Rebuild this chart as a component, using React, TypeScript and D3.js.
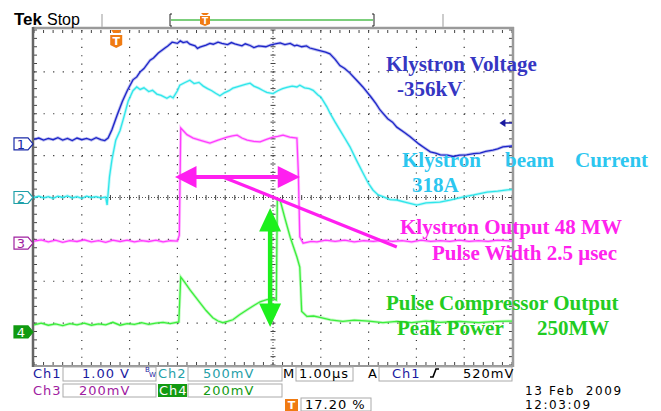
import React, { useEffect, useRef } from "react";
import * as d3 from "d3";

const W = 661;
const H = 411;

// time in µs from the left screen edge (1 µs/div), level in divisions from centre
const ch1Voltage: [number, number][] = [
  [0, 1.39], [0.1, 1.42], [0.2, 1.37], [0.3, 1.41], [0.4, 1.38], [0.5, 1.43], [0.6, 1.37],
  [0.7, 1.41], [0.8, 1.36], [0.9, 1.42], [1.0, 1.38], [1.1, 1.41], [1.2, 1.37], [1.3, 1.43],
  [1.4, 1.38], [1.48, 1.36], [1.55, 1.42], [1.63, 1.62], [1.74, 1.97], [1.85, 2.3], [1.95, 2.55],
  [2.07, 2.81], [2.15, 2.88], [2.22, 3.0], [2.3, 3.08], [2.43, 3.28], [2.5, 3.33], [2.6, 3.45],
  [2.74, 3.57], [2.8, 3.62], [2.89, 3.71], [3.0, 3.68], [3.06, 3.74], [3.12, 3.7], [3.2, 3.72],
  [3.26, 3.66], [3.37, 3.62], [3.42, 3.56], [3.47, 3.59], [3.6, 3.64], [3.68, 3.68], [3.75, 3.66],
  [3.85, 3.71], [3.93, 3.68], [4.05, 3.65], [4.13, 3.7], [4.2, 3.67], [4.35, 3.62], [4.42, 3.67],
  [4.52, 3.63], [4.6, 3.58], [4.7, 3.62], [4.85, 3.6], [4.94, 3.64], [5.05, 3.67], [5.15, 3.69],
  [5.25, 3.65], [5.36, 3.68], [5.45, 3.62], [5.5, 3.64], [5.6, 3.6], [5.7, 3.62], [5.77, 3.57],
  [5.9, 3.53], [6.0, 3.5], [6.1, 3.47], [6.19, 3.43], [6.3, 3.3], [6.4, 3.15], [6.5, 3.08],
  [6.61, 2.97], [6.75, 2.8], [6.88, 2.64], [7.05, 2.4], [7.15, 2.25], [7.24, 2.09], [7.4, 1.88],
  [7.5, 1.8], [7.59, 1.68], [7.75, 1.55], [7.87, 1.45], [8.05, 1.28], [8.15, 1.2], [8.29, 1.09],
  [8.4, 1.06], [8.5, 1.02], [8.65, 1.01], [8.77, 0.98], [8.9, 1.01], [9.05, 1.02], [9.2, 1.05],
  [9.33, 1.06], [9.45, 1.1], [9.6, 1.13], [9.7, 1.16], [9.81, 1.21], [10, 1.23],
];

const ch2Current: [number, number][] = [
  [0, 0.0], [0.1, 0.03], [0.2, -0.01], [0.3, 0.02], [0.4, -0.02], [0.5, 0.03], [0.6, 0.0],
  [0.7, 0.04], [0.8, -0.01], [0.9, 0.02], [1.0, -0.02], [1.1, 0.03], [1.2, 0.0], [1.3, 0.02],
  [1.4, -0.01], [1.5, 0.01], [1.53, -0.18], [1.58, 0.5], [1.63, 0.9], [1.71, 1.37], [1.8, 1.6],
  [1.88, 1.92], [1.97, 2.3], [2.07, 2.55], [2.15, 2.64], [2.22, 2.58], [2.3, 2.62], [2.4, 2.53],
  [2.48, 2.56], [2.57, 2.47], [2.66, 2.44], [2.78, 2.37], [2.85, 2.42], [2.91, 2.38], [3.0, 2.55],
  [3.05, 2.68], [3.15, 2.74], [3.26, 2.8], [3.35, 2.72], [3.45, 2.75], [3.54, 2.66], [3.63, 2.6],
  [3.72, 2.55], [3.8, 2.49], [3.89, 2.43], [3.98, 2.5], [4.08, 2.55], [4.16, 2.61], [4.3, 2.66],
  [4.42, 2.7], [4.52, 2.73], [4.6, 2.66], [4.7, 2.61], [4.8, 2.55], [4.87, 2.51], [5.0, 2.48],
  [5.1, 2.55], [5.2, 2.6], [5.29, 2.63], [5.4, 2.66], [5.5, 2.64], [5.56, 2.68], [5.66, 2.62],
  [5.76, 2.6], [5.84, 2.56], [5.94, 2.45], [6.0, 2.4], [6.13, 2.16], [6.19, 2.02], [6.3, 1.8],
  [6.4, 1.61], [6.5, 1.42], [6.61, 1.21], [6.75, 0.88], [6.88, 0.59], [7.0, 0.33], [7.09, 0.18],
  [7.2, 0.06], [7.3, 0.02], [7.45, -0.05], [7.59, -0.06], [7.8, -0.12], [8.01, -0.18], [8.2, -0.13],
  [8.49, -0.11], [8.7, -0.06], [8.97, 0.01], [9.2, 0.06], [9.48, 0.13], [9.7, 0.15], [9.9, 0.18],
  [10, 0.19],
];

const ch3Output: [number, number][] = [
  [0, -1.04], [0.15, -1.01], [0.3, -1.06], [0.45, -1.02], [0.6, -1.07], [0.75, -1.03],
  [0.9, -1.05], [1.05, -1.01], [1.2, -1.06], [1.35, -1.03], [1.5, -1.07], [1.65, -1.02],
  [1.8, -1.05], [1.95, -1.02], [2.1, -1.06], [2.25, -1.03], [2.4, -1.05], [2.55, -1.02],
  [2.7, -1.06], [2.85, -1.03], [3.0, -1.04], [3.04, -0.9], [3.07, 1.66], [3.2, 1.5],
  [3.33, 1.42], [3.5, 1.36], [3.68, 1.3], [3.85, 1.37], [4.04, 1.44], [4.15, 1.47], [4.25, 1.49],
  [4.35, 1.42], [4.46, 1.37], [4.6, 1.34], [4.73, 1.33], [4.85, 1.38], [5.0, 1.44], [5.1, 1.46],
  [5.21, 1.49], [5.35, 1.44], [5.5, 1.42], [5.53, 0.6], [5.56, -0.94], [5.63, -1.09],
  [5.8, -1.05], [5.92, -1.06], [6.1, -1.02], [6.3, -1.05], [6.5, -1.02], [6.7, -1.06],
  [6.9, -1.03], [7.1, -1.05], [7.3, -1.02], [7.5, -1.05], [7.7, -1.03], [7.9, -1.06],
  [8.1, -1.02], [8.3, -1.05], [8.5, -1.03], [8.7, -1.05], [8.9, -1.02], [9.1, -1.05],
  [9.3, -1.03], [9.5, -1.05], [9.7, -1.02], [10, -1.04],
];

const ch4Compressor: [number, number][] = [
  [0, -3.04], [0.15, -3.0], [0.3, -3.05], [0.45, -3.02], [0.6, -3.06], [0.75, -3.01],
  [0.9, -3.04], [1.05, -3.0], [1.2, -3.05], [1.35, -3.02], [1.5, -3.04], [1.65, -2.98],
  [1.8, -3.05], [1.95, -3.01], [2.1, -3.03], [2.25, -2.99], [2.4, -3.03], [2.55, -3.0],
  [2.7, -2.98], [2.85, -3.01], [3.03, -2.97], [3.07, -1.9], [3.15, -2.02], [3.26, -2.2],
  [3.47, -2.51], [3.6, -2.7], [3.74, -2.87], [3.85, -2.95], [3.95, -2.99], [4.05, -2.96],
  [4.16, -2.92], [4.3, -2.8], [4.46, -2.68], [4.6, -2.58], [4.73, -2.49], [4.87, -2.44],
  [5.0, -2.42], [5.07, -2.45], [5.09, -0.05], [5.15, -0.07], [5.25, -0.5], [5.36, -0.95],
  [5.5, -1.42], [5.56, -1.66], [5.6, -2.72], [5.71, -2.84], [5.85, -2.83], [5.98, -2.86],
  [6.2, -2.92], [6.46, -2.96], [6.7, -2.93], [7.0, -2.95], [7.3, -2.99], [7.59, -2.96],
  [7.9, -2.99], [8.2, -2.95], [8.5, -2.98], [8.9, -2.96], [9.3, -2.99], [9.69, -2.96], [10, -2.95],
];

const channelGround = [1.28, 0, -1.09, -3.21];
const channelNames = ["1", "2", "3", "4"];
const triggerPos = 1.72; // divisions (17.20 %)
const triggerLevel = 1.78;

const C1 = "#1d25c9";
const C2 = "#2ee6ea";
const C3 = "#ff3cff";
const C4 = "#3bee3b";

const App: React.FC = () => {
  const ref = useRef<SVGSVGElement | null>(null);

  useEffect(() => {
    document.body.style.margin = "0";
    const svg = d3.select(ref.current);
    svg.selectAll("*").remove();

    const x = d3.scaleLinear().domain([0, 10]).range([34, 512]);
    const y = d3.scaleLinear().domain([-4, 4]).range([365, 30]);

    svg.append("rect").attr("width", W).attr("height", H).attr("fill", "#fff");

    // graticule
    const g = svg.append("g");
    const xs = d3.range(1, 10);
    const ys = d3.range(-3, 4);
    xs.filter((d) => d !== 5).forEach((d) => {
      g.append("line").attr("x1", x(d)).attr("x2", x(d)).attr("y1", y(4)).attr("y2", y(-4))
        .attr("stroke", "#333").attr("stroke-width", 1.2).attr("stroke-dasharray", `1.2 ${(y(3.8) - y(4)) - 1.2}`);
    });
    ys.filter((d) => d !== 0).forEach((d) => {
      g.append("line").attr("y1", y(d)).attr("y2", y(d)).attr("x1", x(0)).attr("x2", x(10))
        .attr("stroke", "#333").attr("stroke-width", 1.2).attr("stroke-dasharray", `1.2 ${(x(0.2) - x(0)) - 1.2}`);
    });
    // centre lines
    g.append("line").attr("x1", x(5)).attr("x2", x(5)).attr("y1", y(4)).attr("y2", y(-4))
      .attr("stroke", "#555").attr("stroke-dasharray", "1 2");
    g.append("line").attr("y1", y(0)).attr("y2", y(0)).attr("x1", x(0)).attr("x2", x(10))
      .attr("stroke", "#555").attr("stroke-dasharray", "1 2");
    d3.range(0, 10.01, 0.2).forEach((t) => {
      g.append("line").attr("x1", x(t)).attr("x2", x(t)).attr("y1", y(0) - 2.5).attr("y2", y(0) + 2.5).attr("stroke", "#444");
      g.append("line").attr("x1", x(t)).attr("x2", x(t)).attr("y1", y(4)).attr("y2", y(4) + 3).attr("stroke", "#444");
      g.append("line").attr("x1", x(t)).attr("x2", x(t)).attr("y1", y(-4)).attr("y2", y(-4) - 3).attr("stroke", "#444");
    });
    d3.range(-4, 4.01, 0.2).forEach((v) => {
      g.append("line").attr("y1", y(v)).attr("y2", y(v)).attr("x1", x(5) - 2.5).attr("x2", x(5) + 2.5).attr("stroke", "#444");
      g.append("line").attr("y1", y(v)).attr("y2", y(v)).attr("x1", x(0)).attr("x2", x(0) + 3).attr("stroke", "#444");
      g.append("line").attr("y1", y(v)).attr("y2", y(v)).attr("x1", x(10)).attr("x2", x(10) - 3).attr("stroke", "#444");
    });
    // frame
    g.append("line").attr("x1", x(0) - 1).attr("x2", x(10) + 2).attr("y1", y(4) - 2).attr("y2", y(4) - 2).attr("stroke", "#9a9a9a").attr("stroke-width", 2.5);
    g.append("line").attr("x1", x(0) - 1).attr("x2", x(10) + 2).attr("y1", y(-4) + 1).attr("y2", y(-4) + 1).attr("stroke", "#9a9a9a").attr("stroke-width", 2);
    g.append("line").attr("x1", x(0) - 1).attr("x2", x(0) - 1).attr("y1", y(4) - 3).attr("y2", y(-4) + 2).attr("stroke", "#666").attr("stroke-width", 2.5);
    g.append("line").attr("x1", x(10) + 1).attr("x2", x(10) + 1).attr("y1", y(4) - 3).attr("y2", y(-4) + 2).attr("stroke", "#9a9a9a").attr("stroke-width", 2.5);

    // traces
    const line = d3.line<[number, number]>().x((d) => x(d[0])).y((d) => y(d[1]));
    const traces: [[number, number][], string][] = [
      [ch1Voltage, C1], [ch2Current, C2], [ch3Output, C3], [ch4Compressor, C4],
    ];
    traces.forEach(([data, color]) => {
      svg.append("path").attr("d", line(data)).attr("fill", "none").attr("stroke", color)
        .attr("stroke-opacity", 0.3).attr("stroke-width", 3);
      svg.append("path").attr("d", line(data)).attr("fill", "none").attr("stroke", color)
        .attr("stroke-width", 1.3);
    });

    // channel ground markers
    const outline = ["#1a2aa8", "#1fa0a8", "#a020a0", "#119a11"];
    channelGround.forEach((v, i) => {
      const cy = y(v);
      const filled = i === 3;
      svg.append("path")
        .attr("d", `M14,${cy - 6} h14 l5,6 l-5,6 h-14 z`)
        .attr("fill", filled ? outline[i] : "#fff").attr("stroke", outline[i]).attr("stroke-width", 1.2);
      svg.append("text").attr("x", 21).attr("y", cy + 5).attr("text-anchor", "middle")
        .attr("font-family", "DejaVu Sans").attr("font-size", 13)
        .attr("fill", filled ? "#fff" : outline[i]).text(channelNames[i]);
    });

    // trigger level marker
    svg.append("path").attr("d", `M${x(9.8) - 3},${y(triggerLevel)} l6,-4 v8 z`).attr("fill", "#1a1aa0");
    svg.append("line").attr("x1", x(9.8)).attr("x2", x(10)).attr("y1", y(triggerLevel)).attr("y2", y(triggerLevel)).attr("stroke", "#1a1aa0").attr("stroke-width", 1.5);

    // trigger position marker (orange T)
    const tx = x(triggerPos);
    svg.append("path").attr("d", `M${tx - 5},30 h10 l-2,3 h-6 z`).attr("fill", "#f07b12");
    svg.append("path").attr("d", `M${tx - 6},35 h12 v10 l-6,3 l-6,-3 z`).attr("fill", "#f07b12");
    svg.append("text").attr("x", tx).attr("y", 45).attr("text-anchor", "middle")
      .attr("font-family", "DejaVu Sans").attr("font-weight", "bold").attr("font-size", 11)
      .attr("fill", "#fff").text("T");

    // header
    svg.append("text").attr("x", 14).attr("y", 25).attr("font-family", "Liberation Sans")
      .attr("font-weight", "bold").attr("font-size", 17).attr("fill", "#000").text("Tek");
    svg.append("text").attr("x", 47).attr("y", 25).attr("font-family", "Liberation Sans")
      .attr("font-size", 16).attr("fill", "#000").text("Stop");
    [102, 443].forEach((sx) =>
      svg.append("line").attr("x1", sx).attr("x2", sx).attr("y1", 14).attr("y2", 27).attr("stroke", "#bbb").attr("stroke-width", 1.5));
    svg.append("line").attr("x1", 171).attr("x2", 373).attr("y1", 20).attr("y2", 20).attr("stroke", "#7ccf7c").attr("stroke-width", 1.8);
    svg.append("path").attr("d", "M172,14 h-2 v12 h2").attr("fill", "none").attr("stroke", "#222").attr("stroke-width", 1);
    svg.append("path").attr("d", "M372,14 h2 v12 h-2").attr("fill", "none").attr("stroke", "#222").attr("stroke-width", 1);
    svg.append("path").attr("d", "M201,13 h8 l-2,2 h-4 z").attr("fill", "#f07b12");
    svg.append("path").attr("d", "M200,16 h10 v8 l-5,2 l-5,-2 z").attr("fill", "#f07b12");
    svg.append("text").attr("x", 205).attr("y", 24).attr("text-anchor", "middle").attr("font-family", "DejaVu Sans")
      .attr("font-weight", "bold").attr("font-size", 9).attr("fill", "#fff").text("T");

    // annotation arrows
    const mag = "#ff1ff0";
    const ay = y(0.49);
    svg.append("line").attr("x1", x(3.2)).attr("x2", x(5.3)).attr("y1", ay).attr("y2", ay).attr("stroke", mag).attr("stroke-width", 4);
    svg.append("path").attr("d", `M${x(2.95)},${ay} L${x(3.4)},${ay - 11} L${x(3.4)},${ay + 11} Z`).attr("fill", mag);
    svg.append("path").attr("d", `M${x(5.565)},${ay} L${x(5.1)},${ay - 11} L${x(5.1)},${ay + 11} Z`).attr("fill", mag);
    svg.append("line").attr("x1", x(3.95)).attr("y1", y(0.49)).attr("x2", x(7.59)).attr("y2", y(-1.18))
      .attr("stroke", mag).attr("stroke-width", 3.2);

    const grn = "#1cf01c";
    const gx = x(4.94);
    svg.append("line").attr("x1", gx).attr("x2", gx).attr("y1", y(-0.7)).attr("y2", y(-2.6)).attr("stroke", grn).attr("stroke-width", 4.5);
    svg.append("path").attr("d", `M${gx},${y(-0.25)} L${gx - 11},${y(-0.81)} L${gx + 11},${y(-0.81)} Z`).attr("fill", grn);
    svg.append("path").attr("d", `M${gx},${y(-3.09)} L${gx - 11},${y(-2.53)} L${gx + 11},${y(-2.53)} Z`).attr("fill", grn);

    // annotation texts
    const label = (tx0: number, ty: number, s: string, color: string) =>
      svg.append("text").attr("x", tx0).attr("y", ty).attr("font-family", "Liberation Serif")
        .attr("font-weight", "bold").attr("font-size", 21).attr("fill", color).text(s);
    const tBlue = "#3536c2";
    const tCyan = "#2cc6ef";
    const tMag = "#ff22ee";
    const tGrn = "#22cc22";
    label(386, 71, "Klystron Voltage", tBlue);
    label(397, 96, "-356kV", tBlue);
    label(402, 167, "Klystron", tCyan);
    label(505, 167, "beam", tCyan);
    label(575, 167, "Current", tCyan);
    label(412, 192, "318A", tCyan);
    label(400, 234, "Klystron Output 48 MW", tMag);
    label(432, 260, "Pulse Width 2.5 \u03bcsec", tMag);
    label(386, 310, "Pulse Compressor Output", tGrn);
    label(397, 335, "Peak Power", tGrn);
    label(537, 335, "250MW", tGrn);

    // status area
    const st = (sx: number, sy: number, s: string, color: string, size = 13, ls = 1) =>
      svg.append("text").attr("x", sx).attr("y", sy).attr("font-family", "DejaVu Sans")
        .attr("font-size", size).attr("letter-spacing", ls).attr("fill", color)
        .style("white-space", "pre").text(s);
    const box = (bx: number, by: number, bw: number, bh: number) =>
      svg.append("rect").attr("x", bx).attr("y", by).attr("width", bw).attr("height", bh)
        .attr("fill", "none").attr("stroke", "#aaa").attr("stroke-width", 1);
    box(63, 367, 93, 14);
    box(188, 367, 94, 14);
    box(296, 367, 57, 14);
    box(379, 367, 133, 14);
    box(63, 384, 93, 13);
    box(188, 384, 94, 13);
    box(301, 398, 70, 13);
    svg.append("rect").attr("x", 158).attr("y", 384).attr("width", 29).attr("height", 13).attr("fill", "#129a12");

    st(33, 378, "Ch1", "#1a1aa0");
    st(82, 378, "1.00 V", "#1a1aa0");
    svg.append("text").attr("x", 145).attr("y", 372).attr("font-family", "DejaVu Sans").attr("font-size", 7).attr("fill", "#1a1aa0").text("B");
    svg.append("text").attr("x", 149).attr("y", 377).attr("font-family", "DejaVu Sans").attr("font-size", 7).attr("fill", "#1a1aa0").text("W");
    st(158, 378, "Ch2", "#1fa0a8");
    st(203, 378, "500mV", "#1fa0a8");
    st(283, 378, "M", "#000");
    st(299, 378, "1.00\u00b5s", "#000");
    st(368, 378, "A", "#000");
    st(392, 378, "Ch1", "#1a1aa0");
    svg.append("path").attr("d", "M430,377 h3 l3,-8 h3").attr("fill", "none").attr("stroke", "#000").attr("stroke-width", 1.6);
    st(463, 378, "520mV", "#000");
    st(33, 395, "Ch3", "#a020a0");
    st(79, 395, "200mV", "#a020a0");
    st(159, 395, "Ch4", "#fff");
    st(203, 395, "200mV", "#129a12");
    svg.append("rect").attr("x", 285).attr("y", 399).attr("width", 13).attr("height", 12).attr("fill", "#f07b12");
    svg.append("text").attr("x", 291.5).attr("y", 409).attr("text-anchor", "middle").attr("font-family", "DejaVu Sans")
      .attr("font-weight", "bold").attr("font-size", 11).attr("fill", "#fff").text("T");
    st(305, 409, "17.20 %", "#000");
    st(525, 395, "13 Feb  2009", "#000", 12, 1.6);
    st(525, 409, "12:03:09", "#000", 12, 1.6);
  }, []);

  return <svg ref={ref} width={W} height={H} style={{ position: "absolute", left: 0, top: 0, display: "block" }} />;
};

export default App;
